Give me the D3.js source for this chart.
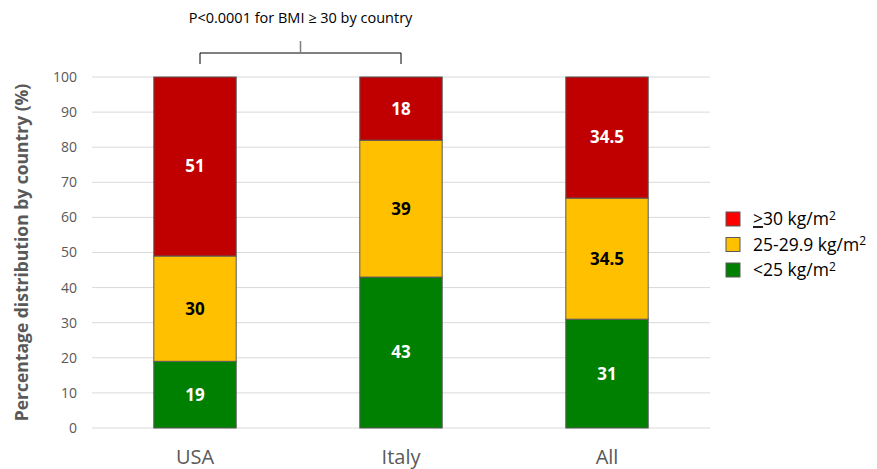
<!DOCTYPE html>
<html><head><meta charset="utf-8">
<script src="https://cdn.jsdelivr.net/npm/d3@7"></script>
<style>body{margin:0;background:#fff}svg{display:block}</style>
</head><body>
<svg id="c" width="877" height="469"></svg>
<script>
const categories = ["USA", "Italy", "All"];
const seriesNames = ["<25", "25-29.9", ">=30"];
const under25 = [19, 43, 31];
const mid25to30 = [30, 39, 34.5];
const over30 = [51, 18, 34.5];
const yTicks = [0,10,20,30,40,50,60,70,80,90,100];

const svg = d3.select("#c");
const font = "'Open Sans', sans-serif";
const x = d3.scaleBand().domain(categories).range([92, 710]).paddingInner(0.6).paddingOuter(0.3);
const y = d3.scaleLinear().domain([0, 100]).range([428, 77]);

// grid
svg.append("g").selectAll("line").data(yTicks).join("line")
  .attr("x1", 92).attr("x2", 710).attr("y1", d => y(d)).attr("y2", d => y(d))
  .attr("stroke", "#d9d9d9").attr("stroke-width", 1);

// y labels
svg.append("g").selectAll("text").data(yTicks).join("text")
  .attr("x", 77).attr("y", d => y(d)).attr("dy", "0.35em").attr("text-anchor", "end")
  .attr("font-family", font).attr("font-size", 14).attr("fill", "#595959").text(d => d);

svg.append("text").attr("transform", `translate(28,${(y(0)+y(100))/2}) rotate(-90)`)
  .attr("text-anchor", "middle").attr("font-family", font).attr("font-size", 17.5)
  .attr("font-weight", "bold").attr("fill", "#595959").text("Percentage distribution by country (%)");

// x labels
svg.append("g").selectAll("text").data(categories).join("text")
  .attr("x", d => x(d) + x.bandwidth()/2).attr("y", 457).attr("dy", "0.35em").attr("text-anchor", "middle")
  .attr("font-family", font).attr("font-size", 20).attr("fill", "#595959").text(d => d);

const rows = categories.map((c, i) => ({cat: c, "<25": under25[i], "25-29.9": mid25to30[i], ">=30": over30[i]}));
const stack = d3.stack().keys(seriesNames)(rows);
const fills = {"<25": "#008000", "25-29.9": "#FFC000", ">=30": "#C00000"};
const labelColors = {"<25": "#fff", "25-29.9": "#000", ">=30": "#fff"};

const g = svg.append("g");
stack.forEach(s => {
  g.selectAll(null).data(s).join("rect")
    .attr("x", d => x(d.data.cat)).attr("width", x.bandwidth())
    .attr("y", d => y(d[1])).attr("height", d => y(d[0]) - y(d[1]))
    .attr("fill", fills[s.key]).attr("stroke", "#595959").attr("stroke-width", 1);
  g.selectAll(null).data(s).join("text")
    .attr("x", d => x(d.data.cat) + x.bandwidth()/2).attr("y", d => y((d[0]+d[1])/2)).attr("dy", "0.35em")
    .attr("text-anchor", "middle").attr("font-family", font).attr("font-size", 17).attr("font-weight", "bold")
    .attr("fill", labelColors[s.key]).text(d => d.data[s.key]);
});

// annotation
const cx1 = x("USA") + x.bandwidth()/2 + 5, cx2 = x("Italy") + x.bandwidth()/2, mid = (cx1+cx2)/2;
svg.append("path").attr("d", `M${cx1},64V53H${cx2}V64`).attr("fill", "none").attr("stroke", "#000").attr("stroke-width", 1);
svg.append("path").attr("d", `M${mid},53V41`).attr("stroke", "#7f7f7f").attr("stroke-width", 1.5);
svg.append("text").attr("x", mid).attr("y", 18).attr("dy", "0.35em").attr("text-anchor", "middle")
  .attr("font-family", font).attr("font-size", 14.5).attr("fill", "#000").text("P<0.0001 for BMI \u2265 30 by country");

// legend
const legend = [
  {main: "30 kg/m", sup: "2", pre: ">", color: "#FF0000"},
  {main: "25-29.9 kg/m", sup: "2", pre: "", color: "#FFC000"},
  {main: "<25 kg/m", sup: "2", pre: "", color: "#008000"}
];
legend.forEach((d, i) => {
  const yy = 219 + i * 25.5;
  svg.append("rect").attr("x", 726).attr("y", yy - 7).attr("width", 14).attr("height", 14)
    .attr("fill", d.color).attr("stroke", "#595959").attr("stroke-width", 1);
  const t = svg.append("text").attr("x", 753).attr("y", yy).attr("dy", "0.35em")
    .attr("font-family", font).attr("font-size", 17.5).attr("fill", "#000");
  if (d.pre) t.append("tspan").attr("text-decoration", "underline").text(d.pre);
  t.append("tspan").text(d.main);
  t.append("tspan").attr("dy", "-0.45em").attr("font-size", 12).text(d.sup);
});
</script>
</body></html>
